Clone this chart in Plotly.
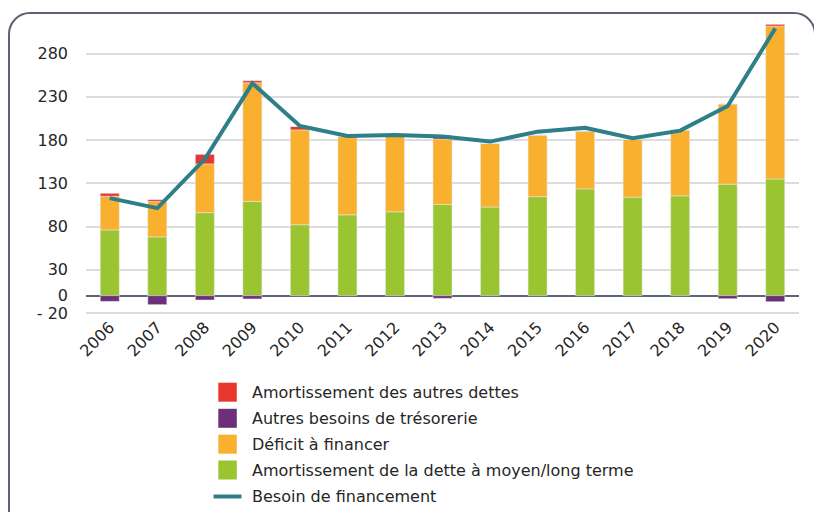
import plotly.graph_objects as go

years = [str(y) for y in range(2006, 2021)]
amort_mlt = [76, 68, 96, 109, 82, 93.5, 97, 105.5, 102.5, 114.5, 123.5, 114, 115.5, 129, 135]
deficit = [39, 41, 56.4, 137.3, 109.7, 90.5, 89, 75.4, 73.8, 71.4, 67, 66.9, 76.2, 92.7, 176.8]
amort_autres = [3.4, 2, 11, 2.3, 4, 0, 0, 4.5, 0, 0, 0, 0, 0, 0, 2]
autres_besoins = [-6.6, -10.4, -5, -3.8, 0, 0, 0, -3.1, 0, 0, 0, 0, 0, -3.5, -7]
besoin = [112.8, 101.2, 158, 245.6, 196.3, 184.8, 185.9, 184, 178.2, 189.7, 194.3, 182.1, 190.9, 219.4, 309.1]

y_tickvals = [-20, 0, 30, 80, 130, 180, 230, 280]
y_ticktext = ["- 20", "0", "30", "80", "130", "180", "230", "280"]

names = ["Amortissement des autres dettes", "Autres besoins de trésorerie",
         "Déficit à financer", "Amortissement de la dette à moyen/long terme",
         "Besoin de financement"]
C_RED, C_PURPLE, C_ORANGE, C_GREEN, C_LINE = "#e8372f", "#6c2f78", "#f9b02f", "#9bc431", "#2e7f88"
FONT = "DejaVu Sans"
TXT = "#262626"

W, H = 814, 512
ML, MR, MT, MB = 86, 15, 19, 198
PW, PH = W - ML - MR, H - MT - MB

def px(x):
    return (x - ML) / PW

def py(y):
    return (H - MB - y) / PH

fig = go.Figure()
fig.add_trace(go.Bar(x=years, y=amort_mlt, name=names[3], marker_color=C_GREEN, width=0.4, showlegend=False))
fig.add_trace(go.Bar(x=years, y=deficit, name=names[2], marker_color=C_ORANGE, width=0.4, showlegend=False))
fig.add_trace(go.Bar(x=years, y=amort_autres, name=names[0], marker_color=C_RED, width=0.4, showlegend=False))
fig.add_trace(go.Bar(x=years, y=autres_besoins, name=names[1], marker_color=C_PURPLE, width=0.4, showlegend=False))
fig.add_trace(go.Scatter(x=years, y=besoin, name=names[4], mode="lines",
                         line=dict(color=C_LINE, width=4), showlegend=False))

shapes = []
# rounded frame
x0, y0, x1, r = 9, 13, 815, 21
ybot = 530
path = (f"M {px(x0)},{py(ybot)} L {px(x0)},{py(y0 + r)} "
        f"C {px(x0)},{py(y0 + r*0.45)} {px(x0 + r*0.45)},{py(y0)} {px(x0 + r)},{py(y0)} "
        f"L {px(x1 - r)},{py(y0)} "
        f"C {px(x1 - r*0.45)},{py(y0)} {px(x1)},{py(y0 + r*0.45)} {px(x1)},{py(y0 + r)} "
        f"L {px(x1)},{py(ybot)}")
shapes.append(dict(type="path", xref="paper", yref="paper", path=path,
                   line=dict(color="#5c6371", width=2), layer="below"))

# manual legend
annotations = []
rows = [392.2, 418.3, 444.2, 470.0, 496.5]
cols = [C_RED, C_PURPLE, C_ORANGE, C_GREEN]
for i, name in enumerate(names):
    yc = rows[i]
    if i < 4:
        shapes.append(dict(type="rect", xref="paper", yref="paper",
                           x0=px(218.3), x1=px(236.8), y0=py(yc - 9.5), y1=py(yc + 9.5),
                           fillcolor=cols[i], line=dict(width=0)))
    else:
        shapes.append(dict(type="line", xref="paper", yref="paper",
                           x0=px(213.5), x1=px(241.5), y0=py(yc), y1=py(yc),
                           line=dict(color=C_LINE, width=4)))
    annotations.append(dict(text=name, xref="paper", yref="paper", x=px(250), y=py(yc),
                            xanchor="left", yanchor="middle", showarrow=False,
                            font=dict(size=16, color=TXT, family=FONT)))

fig.update_layout(
    width=W, height=H,
    margin=dict(l=ML, r=MR, t=MT, b=MB, autoexpand=False),
    paper_bgcolor="white", plot_bgcolor="white",
    barmode="relative",
    font=dict(family=FONT, size=16, color=TXT),
    shapes=shapes, annotations=annotations,
    showlegend=False,
    xaxis=dict(range=[-0.5, 14.5], tickangle=-45, showgrid=False, showline=False,
               ticks="", tickfont=dict(size=16, color=TXT, family=FONT)),
    yaxis=dict(range=[-21.2, 320], tickvals=y_tickvals, ticktext=y_ticktext,
               showgrid=True, gridcolor="#dcdcdc", gridwidth=1.5,
               zeroline=True, zerolinecolor="#5b6576", zerolinewidth=2,
               showline=False, ticks="", ticklabelstandoff=17,
               tickfont=dict(size=16, color=TXT, family=FONT)),
)

fig.write_html("out.html", config={"displayModeBar": False},
               post_script="document.body.style.margin='0';document.body.style.overflow='hidden';")
